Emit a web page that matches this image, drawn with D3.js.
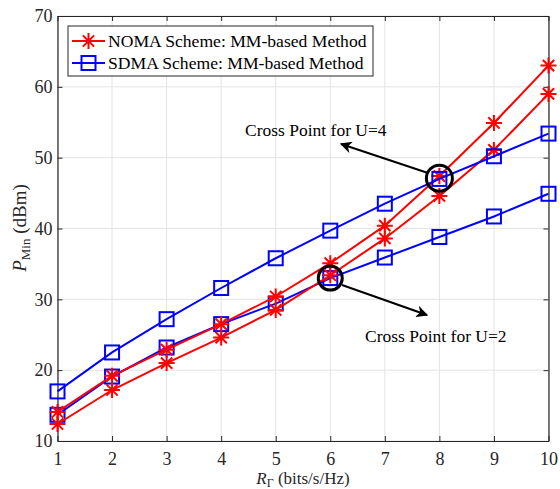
<!DOCTYPE html>
<html>
<head>
<meta charset="utf-8">
<script src="https://cdn.jsdelivr.net/npm/d3@7"></script>
<style>
  body { margin: 0; background: #fff; }
  text { font-family: "Liberation Serif", "Times New Roman", serif; }
</style>
</head>
<body>
<div class="canvas"></div>
<script>
// data
const rates = [1, 2, 3, 4, 5, 6, 7, 8, 9, 10];
const nomaU4 = [14.1, 19.2, 22.9, 26.5, 30.4, 35.1, 40.4, 47.4, 54.9, 63.0];
const nomaU2 = [12.4, 17.2, 21.0, 24.6, 28.5, 33.4, 38.6, 44.6, 51.1, 59.0];
const sdmaU4 = [17.0, 22.5, 27.2, 31.6, 35.8, 39.7, 43.5, 47.0, 50.2, 53.4];
const sdmaU2 = [13.7, 19.1, 23.2, 26.5, 29.4, 33.0, 35.9, 38.8, 41.7, 44.9];
const xTicks = [1, 2, 3, 4, 5, 6, 7, 8, 9, 10];
const yTicks = [10, 20, 30, 40, 50, 60, 70];

// graph setup
const dims = { width: 560, height: 489 };
const plot = { left: 57.5, right: 548.5, top: 16, bottom: 441 };
const serif = '"Liberation Serif", "Times New Roman", serif';

const svg = d3.select('.canvas')
  .append('svg')
  .attr('width', dims.width)
  .attr('height', dims.height);

// scales
const x = d3.scaleLinear().domain([1, 10]).range([plot.left, plot.right]);
const y = d3.scaleLinear().domain([10, 70]).range([plot.bottom, plot.top]);

// grid
const grid = svg.append('g');
grid.selectAll('.gx')
  .data(xTicks)
  .enter().append('line')
  .attr('x1', d => x(d)).attr('x2', d => x(d))
  .attr('y1', plot.top).attr('y2', plot.bottom)
  .attr('stroke', '#e3e3e3').attr('stroke-width', 1);
grid.selectAll('.gy')
  .data(yTicks)
  .enter().append('line')
  .attr('x1', plot.left).attr('x2', plot.right)
  .attr('y1', d => y(d)).attr('y2', d => y(d))
  .attr('stroke', '#e3e3e3').attr('stroke-width', 1);

// axes (ticks inside, box on all sides)
const axisColor = '#262626';
const styleAxis = g => {
  g.select('.domain').attr('stroke', axisColor).attr('stroke-width', 1.2);
  g.selectAll('.tick line').attr('stroke', axisColor).attr('stroke-width', 1);
  g.selectAll('.tick text')
    .attr('fill', axisColor)
    .style('font-size', '18px')
    .style('font-family', serif);
};

svg.append('g')
  .attr('transform', `translate(0,${plot.bottom})`)
  .call(d3.axisBottom(x).tickValues(xTicks).tickFormat(d3.format('d'))
    .tickSizeInner(-5).tickSizeOuter(0).tickPadding(11))
  .call(styleAxis);

svg.append('g')
  .attr('transform', `translate(0,${plot.top})`)
  .call(d3.axisTop(x).tickValues(xTicks).tickFormat('')
    .tickSizeInner(-5).tickSizeOuter(0))
  .call(styleAxis);

svg.append('g')
  .attr('transform', `translate(${plot.left},0)`)
  .call(d3.axisLeft(y).tickValues(yTicks).tickFormat(d3.format('d'))
    .tickSizeInner(-5).tickSizeOuter(0).tickPadding(5))
  .call(styleAxis);

svg.append('g')
  .attr('transform', `translate(${plot.right},0)`)
  .call(d3.axisRight(y).tickValues(yTicks).tickFormat('')
    .tickSizeInner(-5).tickSizeOuter(0))
  .call(styleAxis);

// markers
const asterisk = (g, r) => {
  const s = r * Math.SQRT1_2;
  g.append('path')
    .attr('d', `M${-r},0H${r}M0,${-r}V${r}M${-s},${-s}L${s},${s}M${-s},${s}L${s},${-s}`)
    .attr('fill', 'none');
};
const square = (g, r) => {
  g.append('rect')
    .attr('x', -r).attr('y', -r)
    .attr('width', 2 * r).attr('height', 2 * r)
    .attr('fill', 'none');
};

const line = d3.line()
  .x((d, i) => x(rates[i]))
  .y(d => y(d));

// series, drawn in this order so overlaps match
const series = [
  { values: sdmaU2, color: '#0000ff', marker: square },
  { values: nomaU2, color: '#ff0000', marker: asterisk },
  { values: nomaU4, color: '#ff0000', marker: asterisk },
  { values: sdmaU4, color: '#0000ff', marker: square }
];

series.forEach(s => {
  const g = svg.append('g');
  g.append('path')
    .datum(s.values)
    .attr('d', line)
    .attr('fill', 'none')
    .attr('stroke', s.color)
    .attr('stroke-width', 2);
  const pts = g.selectAll('.pt')
    .data(s.values)
    .enter().append('g')
    .attr('transform', (d, i) => `translate(${x(rates[i])},${y(d)})`)
    .attr('stroke', s.color)
    .attr('stroke-width', 2);
  pts.each(function() { s.marker(d3.select(this), s.marker === square ? 7 : 8); });
});

// legend
const legend = svg.append('g');
legend.append('rect')
  .attr('x', 68).attr('y', 26)
  .attr('width', 305).attr('height', 50)
  .attr('fill', '#fff')
  .attr('stroke', axisColor).attr('stroke-width', 1);

const legendItems = [
  { label: 'NOMA Scheme: MM-based Method', color: '#ff0000', marker: asterisk, r: 8 },
  { label: 'SDMA Scheme: MM-based Method', color: '#0000ff', marker: square, r: 7 }
];
legendItems.forEach((d, i) => {
  const yy = 41 + i * 22;
  legend.append('line')
    .attr('x1', 72).attr('x2', 105)
    .attr('y1', yy).attr('y2', yy)
    .attr('stroke', d.color).attr('stroke-width', 2);
  const m = legend.append('g')
    .attr('transform', `translate(88.5,${yy})`)
    .attr('stroke', d.color).attr('stroke-width', 2);
  d.marker(m, d.r);
  legend.append('text')
    .attr('x', 108).attr('y', yy + 6)
    .style('font-size', '17.6px')
    .style('font-family', serif)
    .attr('fill', '#000')
    .text(d.label);
});

// annotations
svg.append('defs').append('marker')
  .attr('id', 'head')
  .attr('viewBox', '0 0 10 10')
  .attr('refX', 9).attr('refY', 5)
  .attr('markerWidth', 6).attr('markerHeight', 6)
  .attr('markerUnits', 'strokeWidth')
  .attr('orient', 'auto')
  .append('path')
  .attr('d', 'M0,0L10,5L0,10L3,5Z')
  .attr('fill', '#000');

const notes = [
  { cx: 8, cy: 47.1, r: 13, from: [428, 173], to: [341, 144], text: 'Cross Point for U=4', tx: 245, ty: 136 },
  { cx: 6, cy: 33.0, r: 12, from: [342, 285], to: [427, 315], text: 'Cross Point for U=2', tx: 365, ty: 342 }
];
notes.forEach(n => {
  svg.append('ellipse')
    .attr('cx', x(n.cx)).attr('cy', y(n.cy))
    .attr('rx', n.r).attr('ry', n.r)
    .attr('fill', 'none')
    .attr('stroke', '#000').attr('stroke-width', 3);
  svg.append('line')
    .attr('x1', n.from[0]).attr('y1', n.from[1])
    .attr('x2', n.to[0]).attr('y2', n.to[1])
    .attr('stroke', '#000').attr('stroke-width', 2)
    .attr('marker-end', 'url(#head)');
  svg.append('text')
    .attr('x', n.tx).attr('y', n.ty)
    .style('font-size', '17.5px')
    .style('font-family', serif)
    .attr('fill', '#000')
    .text(n.text);
});

// axis labels
const xLabel = svg.append('text')
  .attr('x', 303).attr('y', 484)
  .attr('text-anchor', 'middle')
  .attr('fill', axisColor)
  .style('font-size', '17px');
xLabel.append('tspan').style('font-style', 'italic').text('R');
xLabel.append('tspan').attr('dy', 3).style('font-size', '12px').text('Γ');
xLabel.append('tspan').attr('dy', -3).text(' (bits/s/Hz)');

const yLabel = svg.append('text')
  .attr('transform', 'translate(26,228) rotate(-90)')
  .attr('text-anchor', 'middle')
  .attr('fill', axisColor)
  .style('font-size', '19px');
yLabel.append('tspan').style('font-style', 'italic').text('P');
yLabel.append('tspan').attr('dy', 4).style('font-size', '13px').text('Min');
yLabel.append('tspan').attr('dy', -4).text(' (dBm)');
</script>
</body>
</html>
